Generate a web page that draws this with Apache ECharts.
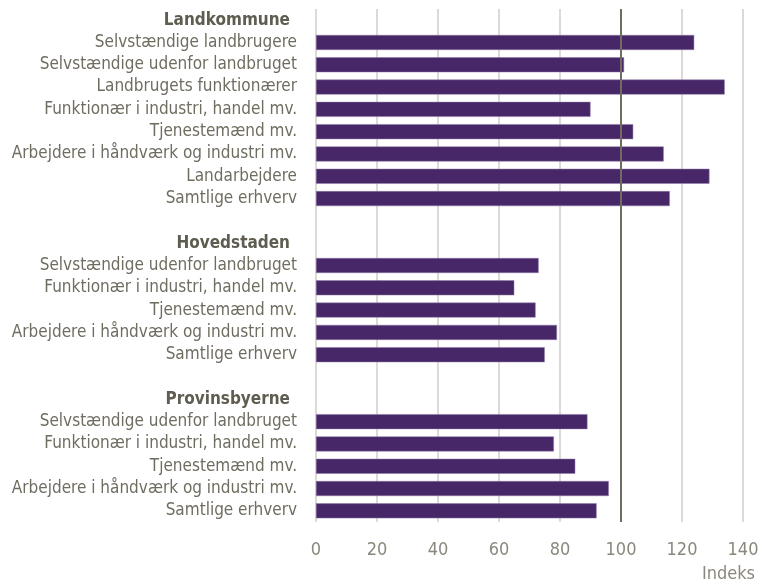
<!DOCTYPE html>
<html><head><meta charset="utf-8">
<script src="https://cdn.jsdelivr.net/npm/echarts@6/dist/echarts.min.js"></script>
<style>html,body{margin:0;padding:0;background:#fff}#c{width:771px;height:584px}</style>
</head><body><div id="c"></div>
<script>
// Data
const groupNames = ["Landkommune", "Hovedstaden", "Provinsbyerne"];
const landCats = ["Selvstændige landbrugere","Selvstændige udenfor landbruget","Landbrugets funktionærer","Funktionær i industri, handel mv.","Tjenestemænd mv.","Arbejdere i håndværk og industri mv.","Landarbejdere","Samtlige erhverv"];
const landVals = [124, 101, 134, 90, 104, 114, 129, 116];
const hovedCats = ["Selvstændige udenfor landbruget","Funktionær i industri, handel mv.","Tjenestemænd mv.","Arbejdere i håndværk og industri mv.","Samtlige erhverv"];
const hovedVals = [73, 65, 72, 79, 75];
const provCats = ["Selvstændige udenfor landbruget","Funktionær i industri, handel mv.","Tjenestemænd mv.","Arbejdere i håndværk og industri mv.","Samtlige erhverv"];
const provVals = [89, 78, 85, 96, 92];
const xTicks = [0, 20, 40, 60, 80, 100, 120, 140];
const refValue = 100;
const axisName = "Indeks";

// Build rows
const groups = [[landCats, landVals], [hovedCats, hovedVals], [provCats, provVals]];
const cats = [], vals = [], isHeader = [];
groups.forEach((g, i) => {
  if (i > 0) { cats.push(" ".repeat(i)); vals.push('-'); isHeader.push(false); }
  cats.push(groupNames[i]); vals.push('-'); isHeader.push(true);
  g[0].forEach((c, j) => { cats.push(c + "\u200b".repeat(i)); vals.push(g[1][j]); isHeader.push(false); });
});

const FONT = "'Liberation Sans Narrow','DejaVu Sans Condensed',sans-serif";
const chart = echarts.init(document.getElementById('c'));
chart.setOption({
  animation: false,
  grid: { left: 316, right: 28, top: 9, bottom: 62, containLabel: false, outerBoundsMode: 'none' },
  xAxis: {
    type: 'value', min: xTicks[0], max: xTicks[xTicks.length - 1], interval: 20,
    axisLine: { show: false }, axisTick: { show: false },
    splitLine: { show: true, lineStyle: { color: '#d0cec6', width: 1.5 } },
    axisLabel: { fontFamily: FONT, fontSize: 18, color: '#8a887c', margin: 19 },
    name: axisName, nameLocation: 'end', nameGap: 0,
    nameTextStyle: { fontFamily: FONT, fontSize: 18, color: '#8a887c', align: 'right', verticalAlign: 'top', padding: [43, -12, 0, 0] }
  },
  yAxis: {
    type: 'category', data: cats, inverse: true,
    axisLine: { show: false }, axisTick: { show: false }, splitLine: { show: false },
    axisLabel: {
      interval: 0, margin: 19, fontFamily: FONT, fontSize: 17, color: '#6f6c60',
      formatter: (v, idx) => isHeader[idx] ? '{h|' + v + '}' : v.replace(/\u200b/g, ''),
      rich: { h: { fontFamily: FONT, fontSize: 17, fontWeight: 'bold', color: '#5f5c50', padding: [0, 7, 0, 0] } }
    }
  },
  series: [{
    type: 'bar', data: vals, barWidth: 15,
    itemStyle: { color: '#472768', borderColor: '#8f7aa8', borderWidth: 0.5 },
    markLine: {
      silent: true, symbol: 'none', label: { show: false },
      lineStyle: { color: '#6f6c60', width: 2, type: 'solid' },
      data: [{ xAxis: refValue }]
    }
  }]
});
</script></body></html>
